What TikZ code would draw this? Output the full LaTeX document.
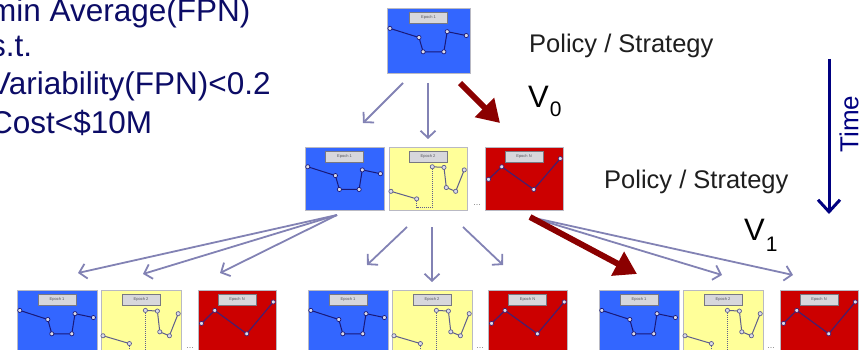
\documentclass[tikz,border=0pt]{standalone}
\usepackage{fontspec}
\setmainfont{Liberation Sans}
\usetikzlibrary{arrows.meta,calc}

\definecolor{navytxt}{RGB}{12,12,102}
\definecolor{timenavy}{RGB}{0,0,128}
\definecolor{boxblue}{RGB}{51,102,255}
\definecolor{boxyellow}{RGB}{255,255,153}
\definecolor{boxred}{RGB}{204,0,0}
\definecolor{framegray}{RGB}{185,185,195}
\definecolor{linkgray}{RGB}{130,130,180}
\definecolor{darkred}{RGB}{139,0,0}
\definecolor{lineblue}{RGB}{25,25,120}
\definecolor{lineyellow}{RGB}{95,95,140}
\definecolor{linered}{RGB}{70,30,110}
\definecolor{tagfill}{RGB}{215,215,220}
\definecolor{taggray}{RGB}{120,120,130}
\definecolor{textdark}{RGB}{30,30,30}
\definecolor{vtxfill}{RGB}{220,220,232}

\tikzset{
  frame/.style={draw=framegray, line width=0.8pt, inner sep=0pt},
  tag/.style={draw=taggray, fill=tagfill, line width=1pt, inner sep=0pt,
    minimum width=38pt, minimum height=11pt, anchor=north,
    font=\fontsize{4}{4}\selectfont, text=taggray!70!black},
  vtx/.style={draw=#1, fill=vtxfill, line width=0.7pt},
  softarrow/.style={draw=linkgray, line width=1.8pt,
    -{Straight Barb[length=7pt,width=15pt]}},
  bigarrow/.style={draw=darkred, line width=6pt,
    -{Triangle[length=22pt,width=26pt]}},
  goalline/.style={anchor=base west, inner sep=0pt, text=navytxt,
    font=\fontsize{31.5}{36}\selectfont},
  policy/.style={anchor=base west, inner sep=0pt, text=textdark,
    font=\fontsize{25.5}{30}\selectfont},
  vlabel/.style={anchor=base west, inner sep=0pt, text=black,
    font=\fontsize{31}{36}\selectfont},
  gap/.style={inner sep=0pt, text=gray, font=\fontsize{9}{9}\selectfont},
}

% Plotted course inside each kind of epoch panel (unit square, y downwards)
\newcommand\chartblue{%
  \draw[lineblue, line width=1pt] (0.04,0.32) -- (0.39,0.46) -- (0.44,0.68)
    -- (0.69,0.68) -- (0.73,0.37) -- (0.96,0.43);
  \foreach \u/\v in {0.04/0.32,0.39/0.46,0.44/0.68,0.69/0.68,0.73/0.37,0.96/0.43}
    \draw[vtx=lineblue] (\u,\v) circle[radius=2.1pt];}
\newcommand\chartyellow{%
  \draw[lineyellow, line width=1pt] (0.03,0.71) -- (0.36,0.83);
  \draw[lineyellow, line width=1pt, densely dotted] (0.36,0.83) -- (0.36,0.97)
    -- (0.56,0.97) -- (0.56,0.32);
  \draw[lineyellow, line width=1pt] (0.56,0.32) -- (0.71,0.33) -- (0.74,0.65)
    -- (0.86,0.71) -- (0.97,0.37);
  \foreach \u/\v in {0.03/0.71,0.36/0.83,0.56/0.32,0.71/0.33,0.74/0.65,0.86/0.71,0.97/0.37}
    \draw[vtx=lineyellow] (\u,\v) circle[radius=2.1pt];}
\newcommand\chartred{%
  \draw[linered, line width=1.2pt] (0.05,0.52) -- (0.22,0.32) -- (0.63,0.68)
    -- (0.97,0.19);
  \foreach \u/\v in {0.05/0.52,0.22/0.32,0.63/0.68,0.97/0.19}
    \draw[vtx=linered] (\u,\v) circle[radius=2.1pt];}

% \epoch{name}{x}{y}{width}{height}{kind}{label}
\newcommand\epoch[7]{%
  \node[frame, fill=box#6, minimum width=#4pt, minimum height=#5pt] (#1) at (#2,#3) {};
  \begin{scope}[shift={(#1.north west)}, x=#4pt, y=-#5pt]
    \csname chart#6\endcsname
  \end{scope}
  \node[tag] (#1-tag) at ($(#1.north)+(0,4)$) {#7};}

\begin{document}
\begin{tikzpicture}[x=1pt, y=-1pt]
\useasboundingbox (0,0) rectangle (867,350);

% optimisation statement
\node[goalline] (goal1) at (-10,22) {min Average(FPN)};
\node[goalline] (goal2) at (-10,57) {s.t.};
\node[goalline] (goal3) at (-10,95) {Variability(FPN)<0.2};
\node[goalline] (goal4) at (-10,134) {Cost<\$10M};

% root policy
\epoch{root}{428.5}{40.5}{83}{65}{blue}{Epoch 1}

% first stage
\epoch{m1}{344.5}{178.5}{79}{63}{blue}{Epoch 1}
\epoch{m2}{428}{178.5}{78}{63}{yellow}{Epoch 2}
\epoch{m3}{524}{178.5}{78}{63}{red}{Epoch N}
\node[gap] (mgap) at (477,205) {...};

% second stage
\epoch{b1}{57}{322.5}{80}{65}{blue}{Epoch 1}
\epoch{b2}{141}{322.5}{80}{65}{yellow}{Epoch 2}
\epoch{b3}{237}{322.5}{78}{65}{red}{Epoch N}
\epoch{b4}{348}{322.5}{80}{65}{blue}{Epoch 1}
\epoch{b5}{432}{322.5}{80}{65}{yellow}{Epoch 2}
\epoch{b6}{527.5}{322.5}{79}{65}{red}{Epoch N}
\epoch{b7}{639}{322.5}{80}{65}{blue}{Epoch 1}
\epoch{b8}{723}{322.5}{80}{65}{yellow}{Epoch 2}
\epoch{b9}{819}{322.5}{78}{65}{red}{Epoch N}
\node[gap] (bgap1) at (190,348) {...};
\node[gap] (bgap2) at (480,348) {...};
\node[gap] (bgap3) at (771,348) {...};

% branch points
\coordinate (r1) at (403,83);  \coordinate (r1e) at (363,123);
\coordinate (r2) at (428,83);  \coordinate (r2e) at (428,139);
\coordinate (r3) at (460,83);  \coordinate (r3e) at (500,123);
\coordinate (s1) at (337,215);
\coordinate (s1a) at (78,273); \coordinate (s1b) at (143,274); \coordinate (s1c) at (220,273);
\coordinate (s2a) at (407,227); \coordinate (s2ae) at (367,265);
\coordinate (s2b) at (432,227); \coordinate (s2be) at (432,282);
\coordinate (s2c) at (463,227); \coordinate (s2ce) at (503,265);
\coordinate (s3) at (530,217);
\coordinate (s3a) at (637,274); \coordinate (s3b) at (722,275); \coordinate (s3c) at (793,275);

% transitions
\draw[softarrow] (r1) -- (r1e);
\draw[softarrow] (r2) -- (r2e);
\draw[bigarrow] (r3) -- (r3e);
\draw[softarrow] (s1) -- (s1a);
\draw[softarrow] (s1) -- (s1b);
\draw[softarrow] (s1) -- (s1c);
\draw[softarrow] (s2a) -- (s2ae);
\draw[softarrow] (s2b) -- (s2be);
\draw[softarrow] (s2c) -- (s2ce);
\draw[softarrow] (s3) -- (s3b);
\draw[softarrow] (s3) -- (s3c);
\draw[bigarrow] (s3) -- (s3a);

% labels
\node[policy] (pol0) at (529,53) {Policy / Strategy};
\node[policy] (pol1) at (604,188) {Policy / Strategy};
\node[vlabel] (v0) at (528,108) {V\kern1pt\raisebox{-9pt}{\fontsize{21}{21}\selectfont 0}};
\node[vlabel] (v1) at (744,240) {V\kern1pt\raisebox{-11pt}{\fontsize{21}{21}\selectfont 1}};

% time axis
\coordinate (t0) at (829,59);
\coordinate (t1) at (829,214);
\draw[timenavy, line width=3pt, -{Straight Barb[length=12pt,width=22pt]}] (t0) -- (t1);
\node[rotate=90, inner sep=0pt, text=timenavy, font=\fontsize{26}{26}\selectfont]
  (time) at (849,124) {Time};
\end{tikzpicture}
\end{document}
